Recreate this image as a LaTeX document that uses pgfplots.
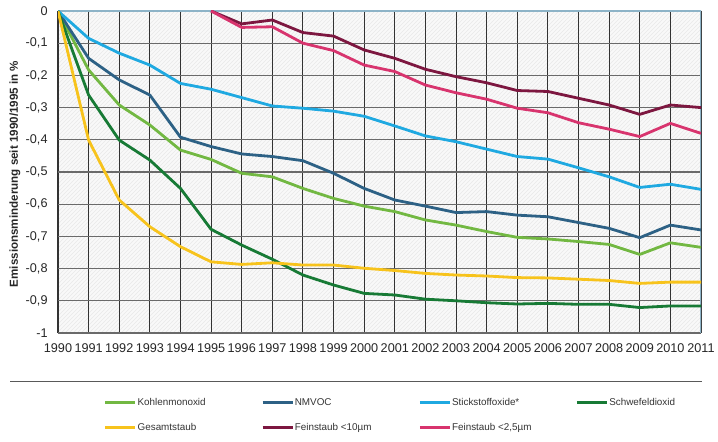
\documentclass[border=0pt]{standalone}
\usepackage{fontspec}
\setmainfont{Liberation Sans}
\usepackage{pgfplots}
\pgfplotsset{compat=1.18}
\usetikzlibrary{patterns}

\definecolor{cKohle}{HTML}{72B842}
\definecolor{cNMVOC}{HTML}{2D6185}
\definecolor{cStick}{HTML}{1FA9E1}
\definecolor{cSchwefel}{HTML}{177A35}
\definecolor{cGesamt}{HTML}{F7C31C}
\definecolor{cPMzehn}{HTML}{7D1740}
\definecolor{cPMzwei}{HTML}{D8346E}
\definecolor{cGridX}{HTML}{333333}
\definecolor{cGridY}{HTML}{6A6A6A}
\definecolor{cRand}{HTML}{8DB3C7}

\begin{document}
\begin{tikzpicture}
\path[use as bounding box] (0,0) rectangle (538.5pt,331.5pt);

\begin{axis}[
    at={(43.5pt,81.75pt)}, anchor=south west,
    scale only axis,
    width=482.25pt, height=241.5pt,
    xmin=1990, xmax=2011,
    ymin=-1, ymax=0,
    xtick={1990,1991,...,2011},
    ytick={-1,-0.9,-0.8,-0.7,-0.6,-0.5,-0.4,-0.3,-0.2,-0.1,0},
    major tick length=0pt,
    xmajorgrids, ymajorgrids,
    x grid style={draw=cGridX, line width=0.8pt},
    y grid style={draw=cGridY, line width=0.8pt},
    axis line style={draw=none},
    axis background/.style={fill=gray!5, postaction={pattern=north east lines, pattern color=gray!17}},
    /pgf/number format/assume math mode=true,
    tick label style={font=\fontsize{9.5}{11}\selectfont, text=black!85},
    x tick label style={/pgf/number format/1000 sep={}, yshift=-4.3pt},
    y tick label style={/pgf/number format/.cd, fixed, use comma, precision=1, /tikz/.cd, xshift=-4.3pt},
    legend columns=4,
    legend image code/.code={\draw[line width=2pt, #1] (0pt,0pt) -- (22.5pt,0pt);},
    legend style={draw=none, fill=none, at={(0.065,-0.19)}, anchor=north west,
        font=\fontsize{7.4}{8}\selectfont, text=black!80,
        nodes={inner sep=0.7pt}, row sep=10.6pt,
        /tikz/every even column/.style={column sep=0pt}},
    legend cell align=left,
    every axis plot/.append style={line width=2.1pt, line join=round},
]
\draw[cRand, line width=1pt] (axis cs:1990,0) -- (axis cs:2011,0) -- (axis cs:2011,-1);

\addplot[cKohle] table {
1990 0
1991 -0.183
1992 -0.292
1993 -0.354
1994 -0.432
1995 -0.461
1996 -0.504
1997 -0.515
1998 -0.551
1999 -0.582
2000 -0.606
2001 -0.623
2002 -0.649
2003 -0.665
2004 -0.685
2005 -0.703
2006 -0.708
2007 -0.716
2008 -0.725
2009 -0.756
2010 -0.720
2011 -0.734
};
\addlegendentry{\makebox[92pt][l]{Kohlenmonoxid}}

\addplot[cNMVOC] table {
1990 0
1991 -0.147
1992 -0.214
1993 -0.261
1994 -0.392
1995 -0.421
1996 -0.444
1997 -0.452
1998 -0.465
1999 -0.504
2000 -0.551
2001 -0.587
2002 -0.606
2003 -0.626
2004 -0.623
2005 -0.634
2006 -0.639
2007 -0.657
2008 -0.675
2009 -0.704
2010 -0.665
2011 -0.680
};
\addlegendentry{\makebox[92pt][l]{NMVOC}}

\addplot[cStick] table {
1990 0
1991 -0.085
1992 -0.131
1993 -0.168
1994 -0.225
1995 -0.243
1996 -0.269
1997 -0.295
1998 -0.302
1999 -0.311
2000 -0.327
2001 -0.357
2002 -0.388
2003 -0.406
2004 -0.429
2005 -0.452
2006 -0.460
2007 -0.487
2008 -0.515
2009 -0.548
2010 -0.538
2011 -0.554
};
\addlegendentry{\makebox[92pt][l]{Stickstoffoxide*}}

\addplot[cSchwefel] table {
1990 0
1991 -0.261
1992 -0.401
1993 -0.463
1994 -0.551
1995 -0.678
1996 -0.727
1997 -0.771
1998 -0.820
1999 -0.851
2000 -0.877
2001 -0.882
2002 -0.895
2003 -0.900
2004 -0.906
2005 -0.910
2006 -0.908
2007 -0.911
2008 -0.911
2009 -0.921
2010 -0.916
2011 -0.916
};
\addlegendentry{\makebox[92pt][l]{Schwefeldioxid}}

\addplot[cGesamt] table {
1990 0
1991 -0.401
1992 -0.587
1993 -0.670
1994 -0.732
1995 -0.779
1996 -0.787
1997 -0.782
1998 -0.789
1999 -0.789
2000 -0.799
2001 -0.806
2002 -0.815
2003 -0.820
2004 -0.823
2005 -0.828
2006 -0.829
2007 -0.833
2008 -0.837
2009 -0.846
2010 -0.842
2011 -0.842
};
\addlegendentry{\makebox[92pt][l]{Gesamtstaub}}

\addplot[cPMzehn] table {
1995 0
1996 -0.040
1997 -0.028
1998 -0.067
1999 -0.078
2000 -0.121
2001 -0.147
2002 -0.181
2003 -0.204
2004 -0.223
2005 -0.247
2006 -0.250
2007 -0.271
2008 -0.292
2009 -0.321
2010 -0.292
2011 -0.300
};
\addlegendentry{\makebox[92pt][l]{Feinstaub <10µm}}

\addplot[cPMzwei] table {
1995 0
1996 -0.051
1997 -0.049
1998 -0.100
1999 -0.123
2000 -0.168
2001 -0.188
2002 -0.230
2003 -0.254
2004 -0.274
2005 -0.302
2006 -0.316
2007 -0.347
2008 -0.367
2009 -0.390
2010 -0.349
2011 -0.380
};
\addlegendentry{\makebox[92pt][l]{Feinstaub <2,5µm}}
\end{axis}

\node[rotate=90, font=\bfseries\fontsize{8.7}{10}\selectfont, text=black!85] at (11.25pt,201pt) {Emissionsminderung seit 1990/1995 in \%};
\draw[black!65, line width=1pt] (7.5pt,45.2pt) -- (526.5pt,45.2pt);
\end{tikzpicture}
\end{document}
